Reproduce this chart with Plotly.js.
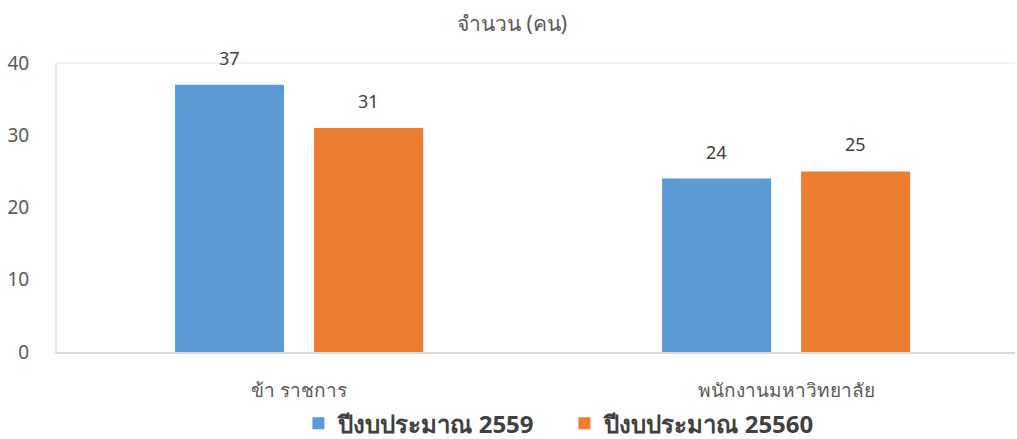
<!DOCTYPE html>
<html>
<head>
<meta charset="utf-8">
<script src="https://cdn.plot.ly/plotly-3.0.1.min.js"></script>
<style>html,body{margin:0;padding:0;background:#fff;}#chart{width:1017px;height:439px;}</style>
</head>
<body>
<div id="chart"></div>
<script>
const categories = ["ข้า ราชการ", "พนักงานมหาวิทยาลัย"];
const seriesNames = ["ปีงบประมาณ 2559", "ปีงบประมาณ 25560"];
const values2559 = [37, 24];
const values25560 = [31, 25];
const yTicks = [0, 10, 20, 30, 40];
const chartTitle = "จำนวน (คน)";

const colors = ["#5b9bd5", "#ed7d31"];
const FONT = "Noto Sans, DejaVu Sans, sans-serif";

const seriesValues = [values2559, values25560];
const traces = seriesValues.map((vals, i) => ({
  type: "bar",
  name: seriesNames[i],
  x: categories,
  y: vals,
  marker: {color: colors[i]},
  hoverinfo: "skip"
}));

const annotations = [];
seriesValues.forEach((vals, i) => {
  vals.forEach((v, j) => {
    annotations.push({
      x: categories[j], y: v, xref: "x", yref: "y",
      text: String(v), showarrow: false,
      xshift: i === 0 ? -69.5 : 69.5, yshift: 13, yanchor: "bottom",
      font: {family: FONT, size: 18, color: "#404040"}
    });
  });
});

const layout = {
  width: 1017, height: 439,
  margin: {l: 57, r: 2, t: 63, b: 87, autoexpand: false},
  paper_bgcolor: "#ffffff", plot_bgcolor: "#ffffff",
  title: {text: chartTitle, x: 0.475, xref: "paper", xanchor: "center", y: 0.945, yref: "container", yanchor: "middle",
          font: {family: FONT, size: 21, color: "#595959"}},
  barmode: "group",
  bargap: 0.429,
  bargroupgap: 0.216,
  showlegend: true,
  legend: {orientation: "h", x: 0.252, xanchor: "left", y: 0.035, yref: "container", yanchor: "middle",
           entrywidth: 221, entrywidthmode: "pixels",
           font: {family: FONT, size: 24, color: "#404040", weight: "bold"}, traceorder: "normal"},
  xaxis: {
    type: "category", range: [-0.497, 1.47],
    showgrid: false, zeroline: false,
    showline: true, linecolor: "#d9d9d9", linewidth: 2,
    ticks: "", ticklabelstandoff: 20,
    tickfont: {family: FONT, size: 19, color: "#595959"},
    fixedrange: true
  },
  yaxis: {
    range: [0, 40], tickvals: yTicks, ticktext: yTicks.map(String),
    showgrid: false, zeroline: false,
    showline: true, linecolor: "#dbe7f3", linewidth: 2,
    ticks: "", ticklabelstandoff: 22,
    tickfont: {family: FONT, size: 19, color: "#595959"},
    fixedrange: true
  },
  shapes: [{type: "line", xref: "paper", yref: "paper", x0: 0, x1: 1, y0: 1, y1: 1,
            line: {color: "#eef3f9", width: 2}}],
  annotations: annotations
};

Plotly.newPlot("chart", traces, layout, {displayModeBar: false, staticPlot: true});
</script>
</body>
</html>
